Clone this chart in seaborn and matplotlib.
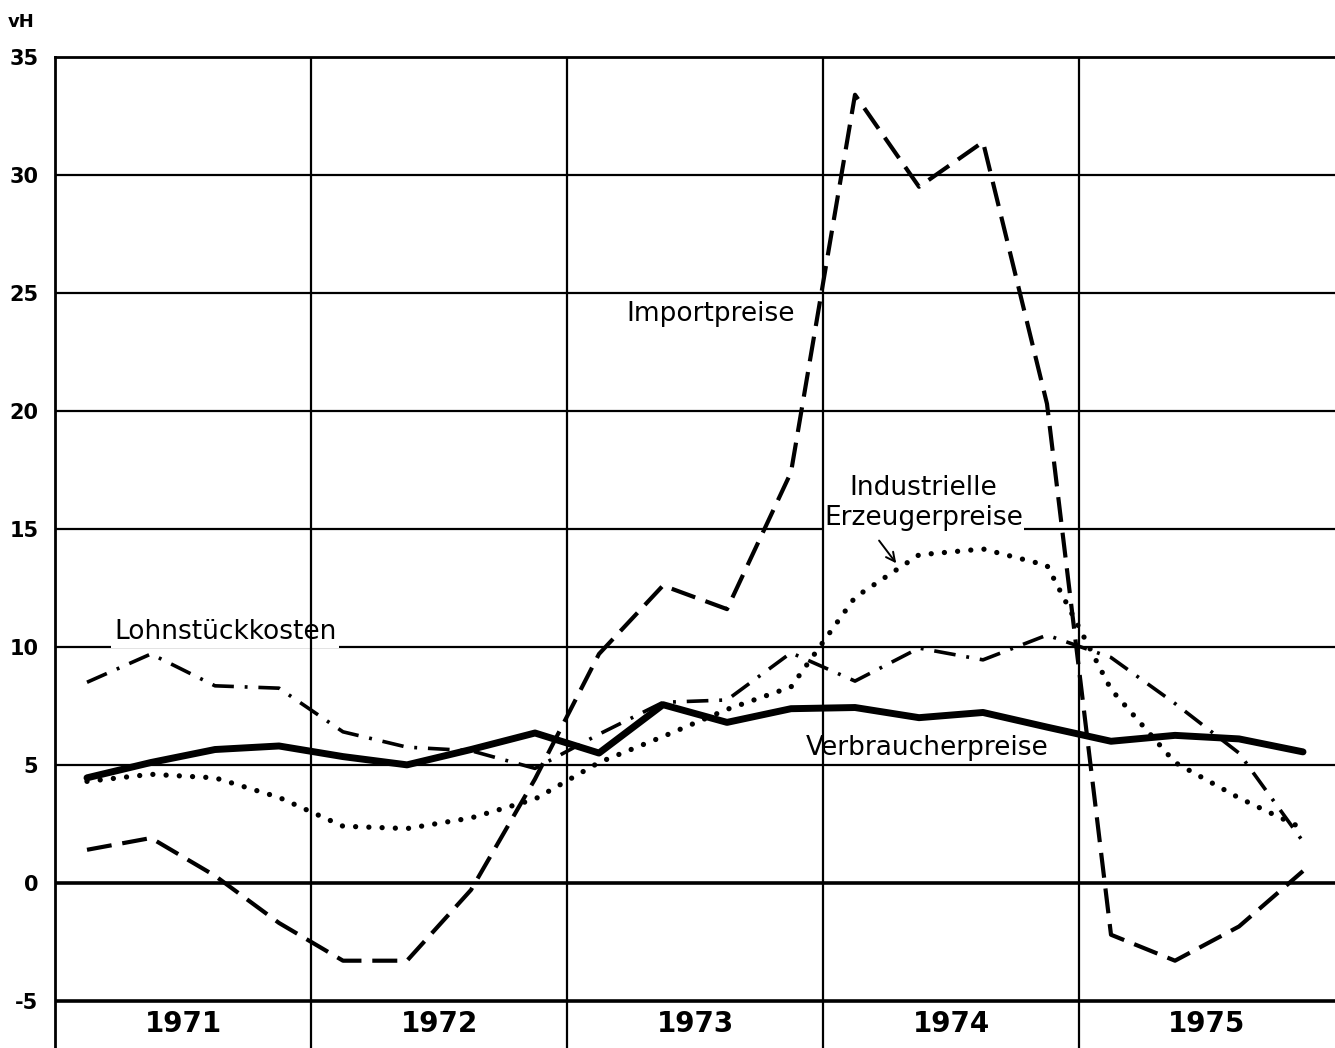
import pandas as pd
import matplotlib
matplotlib.use("Agg")
import matplotlib.pyplot as plt
import seaborn as sns

# quarterly rates of change vs. previous year (vH), 1971 Q1 .. 1975 Q4
years = ["1971", "1972", "1973", "1974", "1975"]
quarter_pos = [i + 0.5 for i in range(20)]

importpreise = [1.4, 1.9, 0.3, -1.7, -3.3, -3.3, -0.3, 4.4, 9.7, 12.6,
                11.6, 17.4, 33.4, 29.5, 31.4, 20.3, -2.2, -3.3, -1.85, 0.5]
lohnstueckkosten = [8.5, 9.7, 8.35, 8.25, 6.4, 5.75, 5.6, 4.85, 6.3, 7.65,
                    7.75, 9.75, 8.55, 9.95, 9.45, 10.5, 9.55, 7.6, 5.5, 1.75]
verbraucherpreise = [4.45, 5.1, 5.65, 5.8, 5.35, 5.0, 5.65, 6.35, 5.5, 7.55,
                     6.8, 7.38, 7.43, 7.0, 7.22, 6.6, 6.0, 6.25, 6.1, 5.55]
erzeugerpreise = [4.3, 4.6, 4.45, 3.62, 2.4, 2.3, 2.75, 3.55, 5.1, 6.2,
                  7.35, 8.3, 12.1, 13.9, 14.15, 13.45, 8.2, 5.1, 3.6, 2.3]

yticks = [-5, 0, 5, 10, 15, 20, 25, 30, 35]

df = pd.DataFrame({
    "q": quarter_pos,
    "Importpreise": importpreise,
    "Lohnstückkosten": lohnstueckkosten,
    "Verbraucherpreise": verbraucherpreise,
    "Erzeugerpreise": erzeugerpreise,
})

sns.set_style("white")
plt.rcParams["font.family"] = ["DejaVu Sans"]
plt.rcParams["text.color"] = "black"
plt.rcParams["ytick.color"] = "black"
narrow = ["DejaVu Sans Condensed", "Liberation Sans Narrow", "DejaVu Sans"]

fig = plt.figure(figsize=(13.35, 10.48), dpi=100)
ax = fig.add_axes([55 / 1335, 0, 1280 / 1335, 991 / 1048])
ax.set_xlim(0, 20)
ax.set_ylim(-7, 35)

# grid: horizontal lines under the label boxes, year lines above them
for y in yticks[:-1]:
    lw = 2.6 if y in (0, -5) else 1.6
    ax.axhline(y, color="black", lw=lw, zorder=1)
for x in [4, 8, 12, 16]:
    ax.axvline(x, color="black", lw=1.6, zorder=2.2)

# series
sns.lineplot(data=df, x="q", y="Importpreise", ax=ax, color="black", lw=3.0,
             linestyle=(0, (6, 2.6)), zorder=3)
sns.lineplot(data=df, x="q", y="Lohnstückkosten", ax=ax, color="black", lw=2.6,
             linestyle=(0, (6, 3, 0.8, 3)), zorder=3)
sns.lineplot(data=df, x="q", y="Erzeugerpreise", ax=ax, color="black", lw=3.8,
             linestyle=(0, (0.01, 2.5)), dash_capstyle="round", zorder=3)
sns.lineplot(data=df, x="q", y="Verbraucherpreise", ax=ax, color="black", lw=5,
             solid_joinstyle="round", zorder=4)

# labels (white boxes cut the grid only, lines stay on top)
lab_kw = dict(fontsize=19, ha="center", va="center", color="black")
ax.text(10.25, 24.1, "Importpreise", zorder=5, **lab_kw)
ax.text(2.66, 10.62, "Lohnstückkosten", zorder=2,
        bbox=dict(facecolor="white", edgecolor="none", pad=2), **lab_kw)
ax.text(13.62, 5.72, "Verbraucherpreise", zorder=5, **lab_kw)
ax.text(13.57, 16.1, "Industrielle\nErzeugerpreise", linespacing=1.2, zorder=2,
        bbox=dict(facecolor="white", edgecolor="none", pad=1), **lab_kw)
ax.annotate("", xy=(13.17, 13.45), xytext=(12.85, 14.6),
            arrowprops=dict(arrowstyle="->", color="black", lw=1.4,
                            mutation_scale=16), zorder=5)

# year labels
for i, yr in enumerate(years):
    ax.text(i * 4 + 2, -6.0, yr, ha="center", va="center", fontsize=20,
            fontweight="bold", fontfamily=narrow, color="black")

ax.set_xticks([])
ax.set_yticks(yticks)
ax.set_yticklabels([str(v) for v in yticks], fontsize=15, fontweight="bold",
                   fontfamily=narrow)
ax.tick_params(axis="y", length=0, pad=12)
ax.set_xlabel("")
ax.set_ylabel("")

for side in ["right", "bottom"]:
    ax.spines[side].set_visible(False)
for side in ["left", "top"]:
    ax.spines[side].set_linewidth(2.0)
    ax.spines[side].set_color("black")

fig.text(8 / 1335, 1 - 22 / 1048, "vH", fontsize=13, fontweight="bold",
         va="center", ha="left", fontfamily=narrow)

fig.savefig("out.png", dpi=100, facecolor="white")
